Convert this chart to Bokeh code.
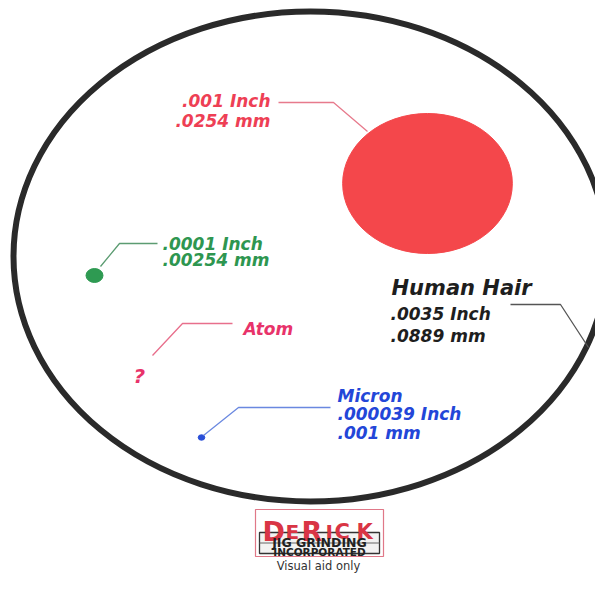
from bokeh.plotting import figure
from bokeh.models import Range1d
from bokeh.core.properties import value
from bokeh.embed import file_html
from bokeh.resources import INLINE

# ---- data (sizes in inches) ----
names = ["Human Hair", ".001 Inch", ".0001 Inch", "Micron"]
inches = [0.0035, 0.001, 0.0001, 0.000039]
fills = [None, "#f4474b", "#2e9a52", "#2a4fd8"]

# label texts
red_lines = [".001 Inch", ".0254 mm"]
green_lines = [".0001 Inch", ".00254 mm"]
atom_lines = ["Atom", "?"]
micron_lines = ["Micron", ".000039 Inch", ".001 mm"]
hair_lines = [".0035 Inch", ".0889 mm"]
logo_letters = ["D", "E", "R", "I", "C", "K"]
logo_sub = ["JIG GRINDING", "INCORPORATED"]
note = "Visual aid only"

# ---- layout (reference pixel space, 1:1) ----
W, H = 595, 574
HAIR_W_PX = 594.0
HAIR_H_PX = 490.0
sx = HAIR_W_PX / inches[0]
sy = HAIR_H_PX / inches[0]
centers = [(310, 256), (427, 183), (94, 275), (201, 437)]

p = figure(width=W, height=H, x_range=Range1d(0, W), y_range=Range1d(H, 0),
           output_backend="svg", toolbar_location=None, min_border=0,
           x_axis_type=None, y_axis_type=None, outline_line_color=None,
           background_fill_color="white", border_fill_color="white")
p.grid.visible = False

FONT = value("DejaVu Sans")

# hair (outline only)
cx, cy = centers[0]
p.ellipse(x=[cx], y=[cy], width=[inches[0] * sx], height=[inches[0] * sy],
          fill_color=None, line_color="#2a2a2a", line_width=6)
# filled circles
for i in range(1, 4):
    cx, cy = centers[i]
    p.ellipse(x=[cx], y=[cy], width=[inches[i] * sx], height=[inches[i] * sy],
              fill_color=fills[i], line_color=fills[i], line_width=1)

# leader lines
p.line([278, 333, 367], [102, 102, 131], line_color="#e77a8c", line_width=1.3)
p.line([100, 119, 157], [266, 243, 243], line_color="#5c9c72", line_width=1.3)
p.line([152, 182, 232], [355, 323, 323], line_color="#e86f8c", line_width=1.3)
p.line([203, 238, 330], [435, 407, 407], line_color="#6a88e0", line_width=1.3)
p.line([510, 560, 588], [304, 304, 347], line_color="#555555", line_width=1.3)

def txt(x, y, t, color, size, align="left", style="bold italic", font=FONT):
    p.text(x=[x], y=[y], text=[t], text_color=color, text_font=font,
           text_font_size="%.1fpx" % size, text_font_style=style,
           text_align=align, text_baseline="alphabetic")

# red
txt(270, 100, red_lines[0], "#ee3f55", 17, "right")
txt(270, 120, red_lines[1], "#ee3f55", 17, "right")
# green
txt(162, 243, green_lines[0], "#2e9650", 17)
txt(162, 259, green_lines[1], "#2e9650", 17)
# atom
txt(243, 328, atom_lines[0], "#e8336a", 17)
txt(133, 375, atom_lines[1], "#e8336a", 20)
# micron
txt(337, 395, micron_lines[0], "#2346d8", 17)
txt(337, 413, micron_lines[1], "#2346d8", 17)
txt(337, 432, micron_lines[2], "#2346d8", 17)
# hair
txt(391, 287, names[0], "#1e1e1e", 21)
txt(390, 313, hair_lines[0], "#1e1e1e", 17)
txt(390, 335, hair_lines[1], "#1e1e1e", 17)

# logo (compressed so the note stays inside the page)
p.quad(left=[255], right=[383], top=[509], bottom=[556], fill_color="white",
       line_color="#e07888", line_width=1.2)
p.quad(left=[259], right=[379], top=[532], bottom=[553], fill_color="#f2f2f2",
       line_color="#333333", line_width=1.3)
p.line([259, 379], [542.5, 542.5], line_color="#666666", line_width=1)
lx = [262, 285, 301, 325, 334, 356]
lsize = [27, 20, 27, 20, 21, 21]
for ch, x, s in zip(logo_letters, lx, lsize):
    txt(x, 531, ch, "#d93545", s, style="bold")
txt(319, 541.5, logo_sub[0], "#222222", 12.5, "center", style="bold")
txt(319, 551.5, logo_sub[1], "#222222", 10.5, "center", style="bold")
txt(318, 565, note, "#333333", 11.5, "center", style="normal")

open("out.html", "w").write(file_html(p, INLINE))
